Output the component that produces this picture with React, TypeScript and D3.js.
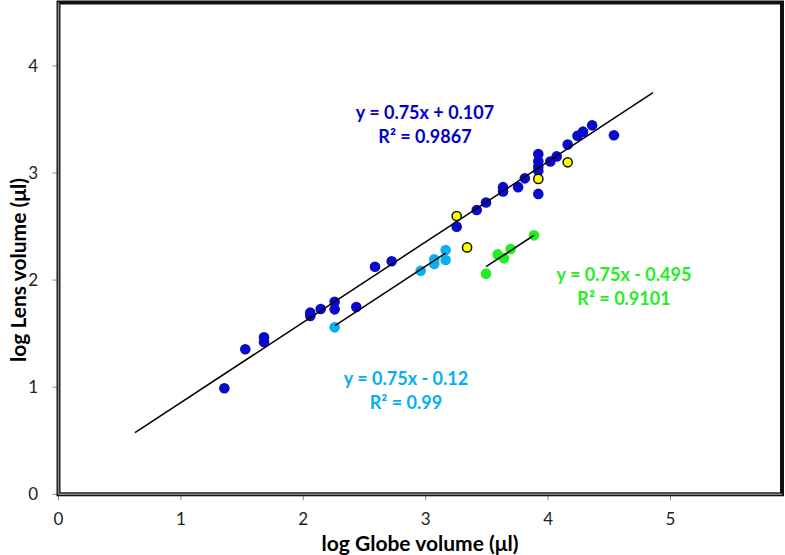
import React from "react";
import * as d3 from "d3";

const blueGlobe = [1.355, 1.526, 1.679, 1.679, 2.057, 2.057, 2.142, 2.256, 2.256, 2.433, 2.586, 2.722, 3.253, 3.417, 3.493, 3.632, 3.632, 3.755, 3.81, 3.92, 3.92, 3.92, 3.92, 3.92, 4.018, 4.07, 4.16, 4.24, 4.285, 4.36, 4.538];
const blueLens = [0.99, 1.355, 1.466, 1.422, 1.696, 1.665, 1.73, 1.798, 1.727, 1.749, 2.125, 2.176, 2.499, 2.655, 2.725, 2.868, 2.828, 2.868, 2.95, 3.177, 3.11, 3.06, 3.02, 2.805, 3.108, 3.155, 3.265, 3.348, 3.386, 3.445, 3.352];
const cyanGlobe = [2.256, 2.959, 3.07, 3.07, 3.163, 3.163];
const cyanLens = [1.559, 2.088, 2.194, 2.15, 2.281, 2.188];
const greenGlobe = [3.493, 3.588, 3.64, 3.694, 3.885];
const greenLens = [2.06, 2.24, 2.203, 2.29, 2.418];
const yellowGlobe = [3.253, 3.338, 3.92, 4.16];
const yellowLens = [2.598, 2.305, 2.945, 3.1];

const xTicks = [0, 1, 2, 3, 4, 5];
const yTicks = [0, 1, 2, 3, 4];

// trendlines: slope, intercept, x range
const trendSlopes = [0.75, 0.75, 0.75];
const trendIntercepts = [0.107, -0.12, -0.495];
const trendStart = [0.625, 2.259, 3.493];
const trendEnd = [4.857, 3.163, 3.885];

const eqLines = [
  ["y = 0.75x + 0.107", "R² = 0.9867"],
  ["y = 0.75x - 0.12", "R² = 0.99"],
  ["y = 0.75x - 0.495", "R² = 0.9101"],
];

const W = 785;
const H = 555;
const left = 58.5;
const right = 782;
const top = 2.5;
const bottom = 494.3;

export default function App() {
  const x = d3.scaleLinear().domain([0, (right - left) / 122.4]).range([left, right]);
  const y = d3.scaleLinear().domain([0, (bottom - top) / 107.1]).range([bottom, top]);
  const font = "Lato, 'Open Sans', sans-serif";

  const pts = (gx: number[], ly: number[]) => gx.map((g, i) => [g, ly[i]] as [number, number]);
  const blue = pts(blueGlobe, blueLens);
  const cyan = pts(cyanGlobe, cyanLens);
  const green = pts(greenGlobe, greenLens);
  const yellow = pts(yellowGlobe, yellowLens);
  const line = d3.line<[number, number]>().x((d) => x(d[0])).y((d) => y(d[1]));

  const eqPos = [
    [2.994, 3.5, "#0000CC"],
    [2.839, 1.02, "#00B0F0"],
    [4.62, 1.99, "#22EE22"],
  ] as [number, number, string][];

  return (
    <div style={{ position: "absolute", left: 0, top: 0 }}>
      <svg width={W} height={H} style={{ display: "block", background: "#fff" }}>
        {xTicks.map((t) => (
          <g key={"xt" + t}>
            <line x1={x(t)} x2={x(t)} y1={bottom} y2={bottom + 6} stroke="#888" strokeWidth={1} />
            <text x={x(t)} y={525} textAnchor="middle" fontFamily={font} fontSize={17} fill="#222">
              {t}
            </text>
          </g>
        ))}
        {yTicks.map((t) => (
          <g key={"yt" + t}>
            <line x1={left - 6} x2={left} y1={y(t)} y2={y(t)} stroke="#888" strokeWidth={1} />
            <text x={38} y={y(t) + 6} textAnchor="end" fontFamily={font} fontSize={17} fill="#222">
              {t}
            </text>
          </g>
        ))}
        <rect x={left} y={top} width={right - left} height={bottom - top} fill="none" stroke="#111" strokeWidth={4} />
        <line x1={left} x2={left} y1={top} y2={bottom} stroke="#888" strokeWidth={1.5} />
        <line x1={left} x2={right} y1={bottom} y2={bottom} stroke="#888" strokeWidth={1.5} />

        {blue.map((d, i) => (
          <circle key={"b" + i} cx={x(d[0])} cy={y(d[1])} r={5.3} fill="#0A0ACC" />
        ))}
        {cyan.map((d, i) => (
          <circle key={"c" + i} cx={x(d[0])} cy={y(d[1])} r={5.3} fill="#0BB0EE" />
        ))}
        {green.map((d, i) => (
          <circle key={"g" + i} cx={x(d[0])} cy={y(d[1])} r={5.3} fill="#22EE22" />
        ))}
        {yellow.map((d, i) => (
          <circle key={"y" + i} cx={x(d[0])} cy={y(d[1])} r={4.6} fill="#FFFF00" stroke="#111" strokeWidth={1.5} />
        ))}

        {trendSlopes.map((s, i) => (
          <path
            key={"tl" + i}
            d={line([
              [trendStart[i], s * trendStart[i] + trendIntercepts[i]],
              [trendEnd[i], s * trendEnd[i] + trendIntercepts[i]],
            ]) || ""}
            stroke="#000"
            strokeWidth={1.5}
            fill="none"
          />
        ))}

        {eqLines.map((ls, i) => (
          <text
            key={"eq" + i}
            y={y(eqPos[i][1])}
            textAnchor="middle"
            fontFamily={font}
            fontWeight="bold"
            fontSize={18}
            fill={eqPos[i][2]}
          >
            <tspan x={x(eqPos[i][0])}>{ls[0]}</tspan>
            <tspan x={x(eqPos[i][0])} dy={24}>{ls[1]}</tspan>
          </text>
        ))}

        <text x={420} y={551} textAnchor="middle" fontFamily={font} fontWeight="bold" fontSize={21} fill="#000">
          log Globe volume (μl)
        </text>
        <text
          transform={`translate(26, 270) rotate(-90)`}
          textAnchor="middle"
          fontFamily={font}
          fontWeight="bold"
          fontSize={21}
          fill="#000"
        >
          log Lens volume (μl)
        </text>
      </svg>
    </div>
  );
}
